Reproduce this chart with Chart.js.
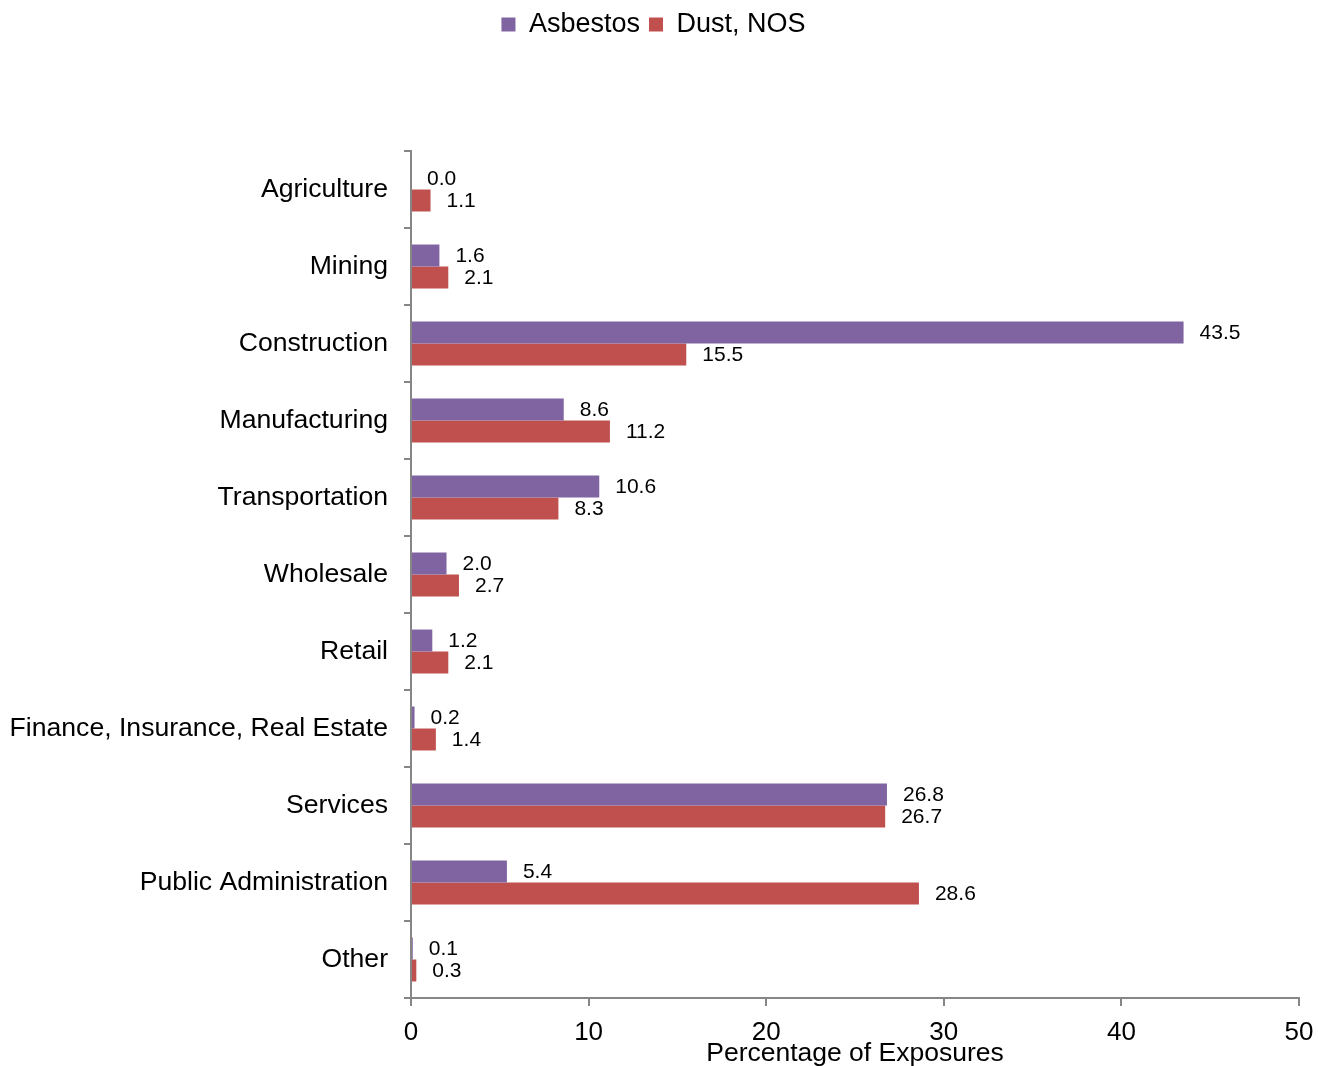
<!DOCTYPE html>
<html>
<head>
<meta charset="utf-8">
<script src="https://cdn.jsdelivr.net/npm/chart.js@4/dist/chart.umd.min.js"></script>
<style>
html,body{margin:0;padding:0;background:#fff;}
#wrap{width:1318px;height:1066px;}
</style>
</head>
<body>
<div id="wrap"><canvas id="c" width="1318" height="1066"></canvas></div>
<script>
const categories = ["Agriculture","Mining","Construction","Manufacturing","Transportation","Wholesale","Retail","Finance, Insurance, Real Estate","Services","Public Administration","Other"];
const asbestos = [0.0, 1.6, 43.5, 8.6, 10.6, 2.0, 1.2, 0.2, 26.8, 5.4, 0.1];
const dustNOS = [1.1, 2.1, 15.5, 11.2, 8.3, 2.7, 2.1, 1.4, 26.7, 28.6, 0.3];
const xTicks = [0, 10, 20, 30, 40, 50];

const FONT = "'Liberation Sans', Arial, sans-serif";
const AXIS = '#868686';

const valueLabels = {
  id: 'valueLabels',
  afterDatasetsDraw(chart) {
    const ctx = chart.ctx;
    ctx.save();
    ctx.font = '21px ' + FONT;
    ctx.fillStyle = '#000';
    ctx.textAlign = 'left';
    ctx.textBaseline = 'middle';
    chart.data.datasets.forEach((ds, i) => {
      const meta = chart.getDatasetMeta(i);
      meta.data.forEach((bar, j) => {
        ctx.fillText(ds.data[j].toFixed(1), bar.x + 16, bar.y + 1);
      });
    });
    ctx.restore();
  }
};

const legendSpace = {
  id: 'legendSpace',
  beforeInit(chart) {
    const lg = chart.legend;
    if (lg && !lg._patched) {
      const orig = lg.fit;
      lg.fit = function () { orig.call(this); this.height += 103; };
      lg._patched = true;
    }
  }
};

new Chart(document.getElementById('c'), {
  type: 'bar',
  data: {
    labels: categories,
    datasets: [
      { label: 'Asbestos', data: asbestos, backgroundColor: '#8064A2', categoryPercentage: 0.571, barPercentage: 1.0 },
      { label: 'Dust, NOS', data: dustNOS, backgroundColor: '#C0504D', categoryPercentage: 0.571, barPercentage: 1.0 }
    ]
  },
  options: {
    indexAxis: 'y',
    responsive: false,
    animation: false,
    layout: { padding: { top: 2, right: 19, bottom: 0, left: 8 } },
    plugins: {
      legend: {
        position: 'top',
        labels: {
          boxWidth: 14, boxHeight: 14, padding: 9,
          color: '#000',
          font: { family: FONT, size: 27 }
        }
      },
      tooltip: { enabled: false }
    },
    scales: {
      x: {
        min: 0, max: 50,
        afterBuildTicks(axis) { axis.ticks = xTicks.map(v => ({ value: v })); },
        afterFit(scale) { scale.height = 68; scale.paddingRight = 0; scale.paddingLeft = 0; },
        grid: { drawOnChartArea: false, drawTicks: true, tickLength: 8, color: AXIS, lineWidth: 2 },
        border: { color: AXIS, width: 2 },
        ticks: { color: '#000', font: { family: FONT, size: 26 }, padding: 11, maxRotation: 0 },
        title: { display: true, text: 'Percentage of Exposures', color: '#000', font: { family: FONT, size: 26.5 }, padding: { top: 0, bottom: -4 } }
      },
      y: {
        afterFit(scale) { scale.width = 403; },
        grid: { drawOnChartArea: false, drawTicks: true, tickLength: 7, color: AXIS, lineWidth: 2, offset: true },
        border: { color: AXIS, width: 2 },
        ticks: { color: '#000', font: { family: FONT, size: 26.6 }, padding: 16 }
      }
    }
  },
  plugins: [legendSpace, valueLabels]
});
</script>
</body>
</html>
